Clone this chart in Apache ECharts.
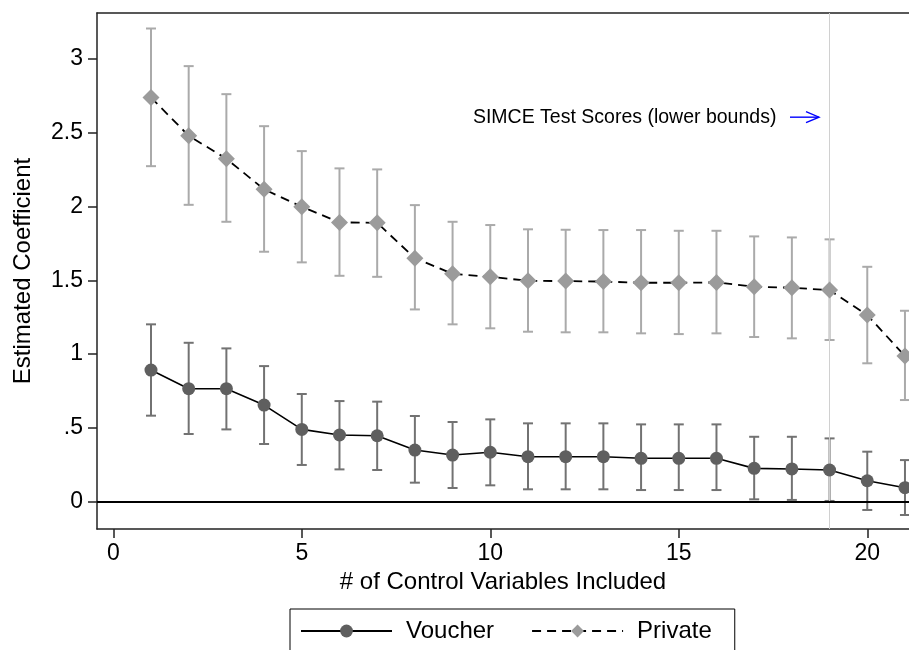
<!DOCTYPE html>
<html><head><meta charset="utf-8">
<script src="https://cdn.jsdelivr.net/npm/echarts@6/dist/echarts.min.js"></script>
<style>html,body{margin:0;padding:0;background:#fff}#c{width:909px;height:650px}</style>
</head><body><div id="c"></div>
<script>
// ---- data ----
const xValues = [1,2,3,4,5,6,7,8,9,10,11,12,13,14,15,16,17,18,19,20,21];
const voucher   = [0.892,0.766,0.766,0.655,0.490,0.452,0.447,0.350,0.316,0.335,0.305,0.305,0.305,0.294,0.294,0.294,0.226,0.222,0.215,0.142,0.095];
const voucherLo = [0.583,0.459,0.490,0.391,0.249,0.219,0.215,0.129,0.093,0.111,0.084,0.084,0.084,0.079,0.079,0.079,0.016,0.012,0.005,-0.056,-0.090];
const voucherHi = [1.202,1.077,1.039,0.919,0.730,0.682,0.678,0.581,0.540,0.558,0.531,0.531,0.531,0.524,0.524,0.524,0.440,0.440,0.429,0.339,0.282];
const priv      = [2.740,2.480,2.324,2.117,1.999,1.893,1.890,1.650,1.545,1.524,1.497,1.495,1.492,1.484,1.484,1.486,1.457,1.450,1.434,1.265,0.987];
const privLo    = [2.274,2.012,1.897,1.694,1.622,1.531,1.524,1.303,1.202,1.175,1.152,1.148,1.148,1.141,1.136,1.141,1.116,1.107,1.096,0.938,0.689];
const privHi    = [3.207,2.952,2.762,2.545,2.376,2.259,2.252,2.010,1.897,1.875,1.846,1.843,1.841,1.841,1.836,1.836,1.798,1.791,1.778,1.592,1.294];
const xTicks = [0,5,10,15,20];
const yTicks = [0,0.5,1,1.5,2,2.5,3];
const seriesNames = ['Voucher','Private'];
const xTitle = '# of Control Variables Included';
const yTitle = 'Estimated Coefficient';
const annotText = 'SIMCE Test Scores (lower bounds)';
const annotPos = [9.54, 2.606];
const arrowSeg = [17.95, 18.72, 2.606];
const refLineX = 19;

// ---- chart ----
const FONT = "'Liberation Sans', Arial, Helvetica, sans-serif";
const chart = echarts.init(document.getElementById('c'), null, {renderer:'canvas'});

function errorBar(lo, hi, color) {
  return {
    type: 'custom', silent: true, z: 2,
    renderItem: function (params, api) {
      const x = api.value(0);
      const a = api.coord([x, api.value(1)]);
      const b = api.coord([x, api.value(2)]);
      const w = 5;
      const st = {stroke: color, lineWidth: 2};
      return {type: 'group', children: [
        {type: 'line', shape: {x1: a[0], y1: a[1], x2: b[0], y2: b[1]}, style: st},
        {type: 'line', shape: {x1: a[0]-w, y1: a[1], x2: a[0]+w, y2: a[1]}, style: st},
        {type: 'line', shape: {x1: b[0]-w, y1: b[1], x2: b[0]+w, y2: b[1]}, style: st}
      ]};
    },
    encode: {x: 0, y: [1, 2]},
    data: xValues.map((x, i) => [x, lo[i], hi[i]])
  };
}

const axisLineStyle = {color: '#222', width: 1.5};

chart.setOption({
  animation: false,
  backgroundColor: '#fff',
  textStyle: {fontFamily: FONT},
  grid: {left: 97, right: 0, top: 13, bottom: 121, containLabel: false},
  xAxis: [{
    type: 'value', min: -0.432, max: 21.107,
    axisLine: {show: true, onZero: false, lineStyle: axisLineStyle},
    axisTick: {show: true, length: 9, customValues: xTicks, lineStyle: axisLineStyle},
    axisLabel: {customValues: xTicks, fontSize: 23, color: '#000', margin: 13, fontFamily: FONT},
    splitLine: {show: false},
    name: xTitle, nameLocation: 'middle', nameGap: 40,
    nameTextStyle: {fontSize: 24, color: '#000', fontFamily: FONT}
  }, {
    type: 'value', position: 'top', min: -0.432, max: 21.107,
    axisLine: {show: true, onZero: false, lineStyle: axisLineStyle},
    axisTick: {show: false}, axisLabel: {show: false}, splitLine: {show: false}
  }],
  yAxis: {
    type: 'value', min: -0.185, max: 3.312,
    axisLine: {show: true, onZero: false, lineStyle: axisLineStyle},
    axisTick: {show: true, length: 9, customValues: yTicks, lineStyle: axisLineStyle},
    axisLabel: {customValues: yTicks, fontSize: 23, color: '#000', margin: 14, fontFamily: FONT,
      formatter: v => (v === 0.5 ? '.5' : String(v))},
    splitLine: {show: false},
    name: yTitle, nameLocation: 'middle', nameGap: 62,
    nameTextStyle: {fontSize: 24, color: '#000', fontFamily: FONT}
  },
  legend: {
    data: seriesNames, left: 290, top: 609, orient: 'horizontal',
    itemWidth: 91, itemHeight: 16, itemGap: 37,
    padding: [10, 23, 10, 10], borderColor: '#000', borderWidth: 1,
    selectedMode: false,
    textStyle: {fontSize: 24, color: '#000', fontFamily: FONT, padding: [0, 0, 0, 9]}
  },
  series: [
    {
      type: 'line', data: [], silent: true, z: 1,
      markLine: {
        silent: true, symbol: 'none', label: {show: false},
        data: [
          {xAxis: refLineX, lineStyle: {color: '#d0d0d0', width: 1, type: 'solid'}},
          {yAxis: 0, lineStyle: {color: '#000', width: 2.2, type: 'solid'}}
        ]
      }
    },
    errorBar(privLo, privHi, '#aaaaaa'),
    errorBar(voucherLo, voucherHi, '#727272'),
    {
      name: seriesNames[0], type: 'line', z: 5,
      data: xValues.map((x, i) => [x, voucher[i]]),
      symbol: 'circle', symbolSize: 13,
      itemStyle: {color: '#5f5f5f'},
      lineStyle: {color: '#000', width: 1.6}
    },
    {
      name: seriesNames[1], type: 'line', z: 5,
      data: xValues.map((x, i) => [x, priv[i]]),
      symbol: 'diamond', symbolSize: 17,
      itemStyle: {color: '#9b9b9b'},
      lineStyle: {color: '#000', width: 1.8, type: [9, 6]}
    },
    {
      type: 'custom', silent: true, z: 6,
      renderItem: function (params, api) {
        const p = api.coord([api.value(0), api.value(1)]);
        return {type: 'text', x: p[0], y: p[1],
          style: {text: annotText, fontSize: 19.5, fontFamily: FONT, fill: '#000', align: 'left', verticalAlign: 'middle'}};
      },
      encode: {x: 0, y: 1},
      data: [annotPos]
    },
    {
      type: 'custom', silent: true, z: 6,
      renderItem: function (params, api) {
        const a = api.coord([api.value(0), api.value(2)]);
        const b = api.coord([api.value(1), api.value(2)]);
        const st = {stroke: '#0000ff', lineWidth: 1.4, fill: null};
        return {type: 'group', children: [
          {type: 'line', shape: {x1: a[0], y1: a[1], x2: b[0], y2: b[1]}, style: st},
          {type: 'polyline', shape: {points: [[b[0]-13, b[1]-5.5], [b[0], b[1]], [b[0]-13, b[1]+5.5]]}, style: st}
        ]};
      },
      encode: {x: [0, 1], y: 2},
      data: [arrowSeg]
    }
  ]
});
</script>
</body></html>
